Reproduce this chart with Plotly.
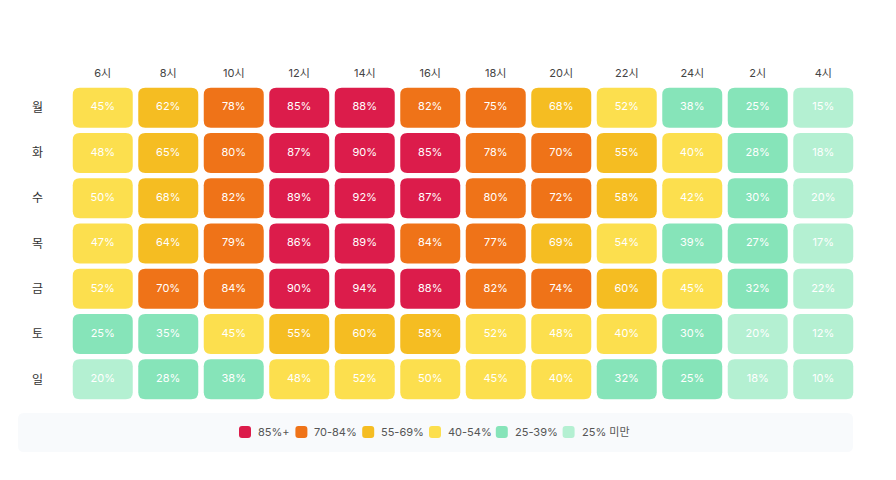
import plotly.graph_objects as go

days = ["월", "화", "수", "목", "금", "토", "일"]
hours = ["6시", "8시", "10시", "12시", "14시", "16시", "18시", "20시", "22시", "24시", "2시", "4시"]

# occupancy (%) per day x hour
mon = [45, 62, 78, 85, 88, 82, 75, 68, 52, 38, 25, 15]
tue = [48, 65, 80, 87, 90, 85, 78, 70, 55, 40, 28, 18]
wed = [50, 68, 82, 89, 92, 87, 80, 72, 58, 42, 30, 20]
thu = [47, 64, 79, 86, 89, 84, 77, 69, 54, 39, 27, 17]
fri = [52, 70, 84, 90, 94, 88, 82, 74, 60, 45, 32, 22]
sat = [25, 35, 45, 55, 60, 58, 52, 48, 40, 30, 20, 12]
sun = [20, 28, 38, 48, 52, 50, 45, 40, 32, 25, 18, 10]
values = [mon, tue, wed, thu, fri, sat, sun]

bin_labels = ["85%+", "70-84%", "55-69%", "40-54%", "25-39%", "25% 미만"]
bin_mins = [85, 70, 55, 40, 25, 0]
bin_colors = ["#dc1c4b", "#ef7318", "#f5bd22", "#fcdf4e", "#86e4b9", "#b4f0d2"]


def color_for(v):
    for lo, c in zip(bin_mins, bin_colors):
        if v >= lo:
            return c
    return bin_colors[-1]


# figure geometry (page body adds an 8px offset, so figure is a bit smaller than window)
W, H = 880, 464
ML, MR, MT, MB = 62, 32, 77, 70
PW, PH = W - ML - MR, H - MT - MB

# cell size in axis units (1 unit = one column / one row)
px_x, px_y = PW / 12, PH / 7
hw, hh = 30 / px_x, 20 / px_y


def rounded_path(x0, x1, y0, y1, rx, ry):
    return (f"M {x0 + rx} {y0} L {x1 - rx} {y0} Q {x1} {y0} {x1} {y0 + ry} "
            f"L {x1} {y1 - ry} Q {x1} {y1} {x1 - rx} {y1} "
            f"L {x0 + rx} {y1} Q {x0} {y1} {x0} {y1 - ry} "
            f"L {x0} {y0 + ry} Q {x0} {y0} {x0 + rx} {y0} Z")


def to_paper(fx, fy):
    return (fx - ML) / PW, (H - MB - fy) / PH


shapes = []
annotations = []

# legend background strip
sx0, sy0 = to_paper(10, 405)
sx1, sy1 = to_paper(845, 444)
shapes.append(dict(type="path", xref="paper", yref="paper",
                   path=rounded_path(sx0, sx1, sy1, sy0, 6 / PW, 6 / PH),
                   fillcolor="#f8fafc", line=dict(width=0), layer="below"))

tx, ty, tt = [], [], []
for r, row in enumerate(values):
    for c, v in enumerate(row):
        shapes.append(dict(type="path", xref="x", yref="y",
                           path=rounded_path(c - hw, c + hw, r - hh, r + hh, 7 / px_x, 7 / px_y),
                           fillcolor=color_for(v), line=dict(width=0), layer="below"))
        tx.append(c)
        ty.append(r)
        tt.append(f"{v}%")


# custom legend laid out like a flex row: swatch, gap, label, gap
def text_w(s):
    w = 0
    for ch in s:
        if ch.isdigit():
            w += 6.2
        elif ch == "%":
            w += 9
        elif ch == "+":
            w += 6
        elif ch == "-":
            w += 4
        elif ch == " ":
            w += 3
        else:
            w += 10.5
    return w


sw, gap, sep = 12, 5, 12
widths = [sw + gap + text_w(s) for s in bin_labels]
total = sum(widths) + sep * (len(widths) - 1)
cx_leg, cy_leg = 424, 424
fx = cx_leg - total / 2
for lab, col, w in zip(bin_labels, bin_colors, widths):
    px0, py0 = to_paper(fx, cy_leg + sw / 2)
    px1, py1 = to_paper(fx + sw, cy_leg - sw / 2)
    shapes.append(dict(type="path", xref="paper", yref="paper",
                       path=rounded_path(px0, px1, py0, py1, 3 / PW, 3 / PH),
                       fillcolor=col, line=dict(width=0)))
    ax, ay = to_paper(fx + sw + gap, cy_leg)
    annotations.append(dict(xref="paper", yref="paper", x=ax, y=ay, text=lab,
                            showarrow=False, xanchor="left", yanchor="middle",
                            font=dict(size=11, color="#555")))
    fx += w + sep

fig = go.Figure()
fig.add_trace(go.Scatter(x=tx, y=ty, mode="text", text=tt,
                         textfont=dict(color="white", size=11, family="Inter"),
                         showlegend=False, hoverinfo="skip"))

fig.update_layout(
    width=W, height=H,
    margin=dict(l=ML, r=MR, t=MT, b=MB),
    paper_bgcolor="white", plot_bgcolor="rgba(0,0,0,0)",
    font=dict(family="Inter, Noto Sans CJK KR", color="#444", size=11),
    shapes=shapes, annotations=annotations, showlegend=False,
    xaxis=dict(range=[-0.5, 11.5], side="top", tickmode="array",
               tickvals=list(range(len(hours))), ticktext=hours,
               showgrid=False, zeroline=False, showline=False, ticks="",
               ticklabelstandoff=5, fixedrange=True),
    yaxis=dict(range=[6.5, -0.5], tickmode="array",
               tickvals=list(range(len(days))), ticktext=days,
               showgrid=False, zeroline=False, showline=False, ticks="",
               ticklabelstandoff=26, tickfont=dict(size=12, color="#333"),
               fixedrange=True),
)

fig.write_html("out.html")
